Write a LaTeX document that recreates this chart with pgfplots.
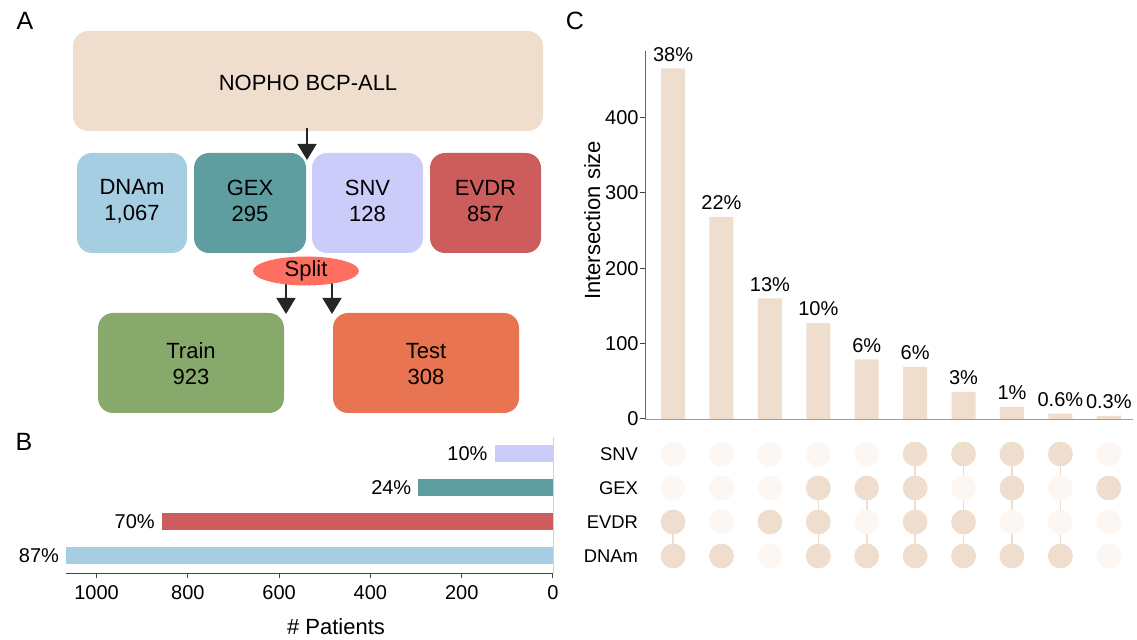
\documentclass[border=0pt]{standalone}
\usepackage{pgfplots}
\pgfplotsset{compat=1.18}
\usepackage{fontspec}
\setmainfont{Liberation Sans}
\usetikzlibrary{arrows.meta}
\definecolor{beige}{HTML}{EFDECE}
\definecolor{dotoff}{HTML}{FCF7F2}
\definecolor{cdnam}{HTML}{A6CEE3}
\definecolor{cgex}{HTML}{5F9EA0}
\definecolor{csnv}{HTML}{CCCCFA}
\definecolor{cevdr}{HTML}{CD5C5C}
\definecolor{csplit}{HTML}{FF6F61}
\definecolor{ctrain}{HTML}{87A96B}
\definecolor{ctest}{HTML}{E97451}
\definecolor{axgray}{HTML}{666666}
\definecolor{axdark}{HTML}{444444}
\newcommand\ftick{\fontsize{10}{12}\selectfont}
\newcommand\frow{\fontsize{9.2}{11}\selectfont}
\newcommand\flab{\fontsize{11}{13}\selectfont}
\newcommand\fflow{\fontsize{11}{13}\selectfont}
\newcommand\fletter{\fontsize{12.5}{14}\selectfont}
\begin{document}
\begin{tikzpicture}
\path[use as bounding box] (0,0) rectangle (568.5pt,-320pt);
% ---------------- Panel A (flowchart)
\begin{scope}[x=0.5pt,y=-0.5pt]
\fill[beige, rounded corners=7.5pt] (73,31) rectangle (543,131);
\node[font=\fflow] at (308,83) {NOPHO BCP-ALL};
\fill[cdnam, rounded corners=7.5pt] (77,153) rectangle (187,253);
\fill[cgex, rounded corners=7.5pt] (194,153) rectangle (306,253);
\fill[csnv, rounded corners=7.5pt] (312,153) rectangle (423,253);
\fill[cevdr, rounded corners=7.5pt] (430,153) rectangle (541,253);
\node[align=center,font=\fflow] at (132,201) {DNAm\\1,067};
\node[align=center,font=\fflow] at (250,201) {GEX\\295};
\node[align=center,font=\fflow] at (367.5,201) {SNV\\128};
\node[align=center,font=\fflow] at (485.5,201) {EVDR\\857};
\fill[ctrain, rounded corners=7.5pt] (98,313) rectangle (284,413);
\fill[ctest, rounded corners=7.5pt] (333,313) rectangle (519,413);
\node[align=center,font=\fflow] at (191,364) {Train\\923};
\node[align=center,font=\fflow] at (426,364) {Test\\308};
\draw[line width=0.8pt, black!85, -{Triangle[width=9.5pt,length=8pt]}] (307,128) -- (307,160);
\draw[line width=0.8pt, black!85, -{Triangle[width=9.5pt,length=8pt]}] (286,282) -- (286,314);
\draw[line width=0.8pt, black!85, -{Triangle[width=9.5pt,length=8pt]}] (332,282) -- (332,314);
\fill[csplit] (306,271) ellipse [x radius=53, y radius=14.5];
\node[font=\fflow] at (306,271) {Split};
\node[font=\fletter] at (25,21) {A};
\node[font=\fletter] at (24,442) {B};
\node[font=\fletter] at (575,21) {C};
\node[font=\flab] at (336,627) {\# Patients};
\end{scope}
% ---------------- Panel C (intersection bars)
\begin{axis}[
  at={(322.5pt,-209.5pt)}, anchor=south west,
  scale only axis, width=244pt, height=184pt,
  xmin=0.42, xmax=10.5, ymin=0, ymax=488,
  axis x line*=bottom, axis y line*=left,
  axis line style={-},
  x axis line style={draw=gray!75},
  y axis line style={draw=axgray},
  xtick=\empty, ytick={0,100,200,300,400},
  tick align=outside, major tick length=2.5pt,
  y tick style={axdark, line width=0.5pt},
  /pgf/number format/assume math mode=true,
  ticklabel style={font=\ftick},
  yticklabel style={xshift=2.8pt},
  ylabel={Intersection size},
  ylabel style={font=\flab, at={(axis description cs:-0.108,0.54)}, anchor=center},
  clip=false,
]
\addplot[ybar, bar width=12pt, bar shift=0pt, fill=beige, draw=none,
  nodes near coords, point meta=explicit symbolic,
  nodes near coords style={font=\ftick, black}]
  coordinates {(1,465)[38\%] (2,268)[22\%] (3,160)[13\%] (4,127)[10\%] (5,79)[6\%]
               (6,69)[6\%] (7,36)[3\%] (8,16)[1\%] (9,7)[0.6\%] (10,4)[0.3\%]};
\end{axis}
% ---------------- Panel C (matrix)
\begin{axis}[
  at={(322.5pt,-286.5pt)}, anchor=south west,
  scale only axis, width=244pt, height=68pt,
  xmin=0.42, xmax=10.5, ymin=0.5, ymax=4.5,
  axis line style={draw=none},
  xtick=\empty, ytick={1,2,3,4}, yticklabels={DNAm,EVDR,GEX,SNV},
  ytick pos=left, major tick length=0pt,
  ticklabel style={font=\frow},
  clip=false,
]
\addplot[only marks, color=dotoff, mark=*, mark size=6pt, mark options={draw=dotoff, fill=dotoff}]
  coordinates {(1,3) (1,4) (2,2) (2,3) (2,4) (3,1) (3,3) (3,4) (4,4) (5,2) (5,4)
               (7,3) (8,2) (9,2) (9,3) (10,1) (10,2) (10,4)};
\addplot[beige, line width=0.8pt, unbounded coords=jump]
  coordinates {(1,1) (1,2) (1,nan) (4,1) (4,3) (4,nan) (5,1) (5,3) (5,nan)
               (6,1) (6,4) (6,nan) (7,1) (7,4) (7,nan) (8,1) (8,4) (8,nan) (9,1) (9,4)};
\addplot[only marks, color=beige, mark=*, mark size=6pt, mark options={draw=beige, fill=beige}]
  coordinates {(1,1) (1,2) (2,1) (3,2) (4,1) (4,2) (4,3) (5,1) (5,3)
               (6,1) (6,2) (6,3) (6,4) (7,1) (7,2) (7,4) (8,1) (8,3) (8,4) (9,1) (9,4) (10,3)};
\end{axis}
% ---------------- Panel B (patients per modality)
\begin{axis}[
  at={(33pt,-286.5pt)}, anchor=south west,
  scale only axis, width=243.5pt, height=68pt,
  xbar, bar width=8.5pt, bar shift=0pt,
  x dir=reverse, xmin=0, xmax=1067, ymin=0.5, ymax=4.5,
  axis x line*=bottom, axis y line*=right,
  axis line style={-},
  x axis line style={draw=axdark},
  y axis line style={draw=gray!35},
  ytick=\empty, xtick={0,200,400,600,800,1000},
  tick align=outside, major tick length=2.5pt,
  x tick style={axdark, line width=0.5pt},
  /pgf/number format/assume math mode=true,
  /pgf/number format/1000 sep={},
  ticklabel style={font=\ftick},
  clip=false,
]
\addplot[fill=csnv, draw=none] coordinates {(128,4)};
\addplot[fill=cgex, draw=none] coordinates {(295,3)};
\addplot[fill=cevdr, draw=none] coordinates {(857,2)};
\addplot[fill=cdnam, draw=none] coordinates {(1067,1)};
\node[anchor=east, font=\ftick] at (axis cs:128,4) {10\%};
\node[anchor=east, font=\ftick] at (axis cs:295,3) {24\%};
\node[anchor=east, font=\ftick] at (axis cs:857,2) {70\%};
\node[anchor=east, font=\ftick] at (axis cs:1067,1) {87\%};
\end{axis}
\end{tikzpicture}
\end{document}
